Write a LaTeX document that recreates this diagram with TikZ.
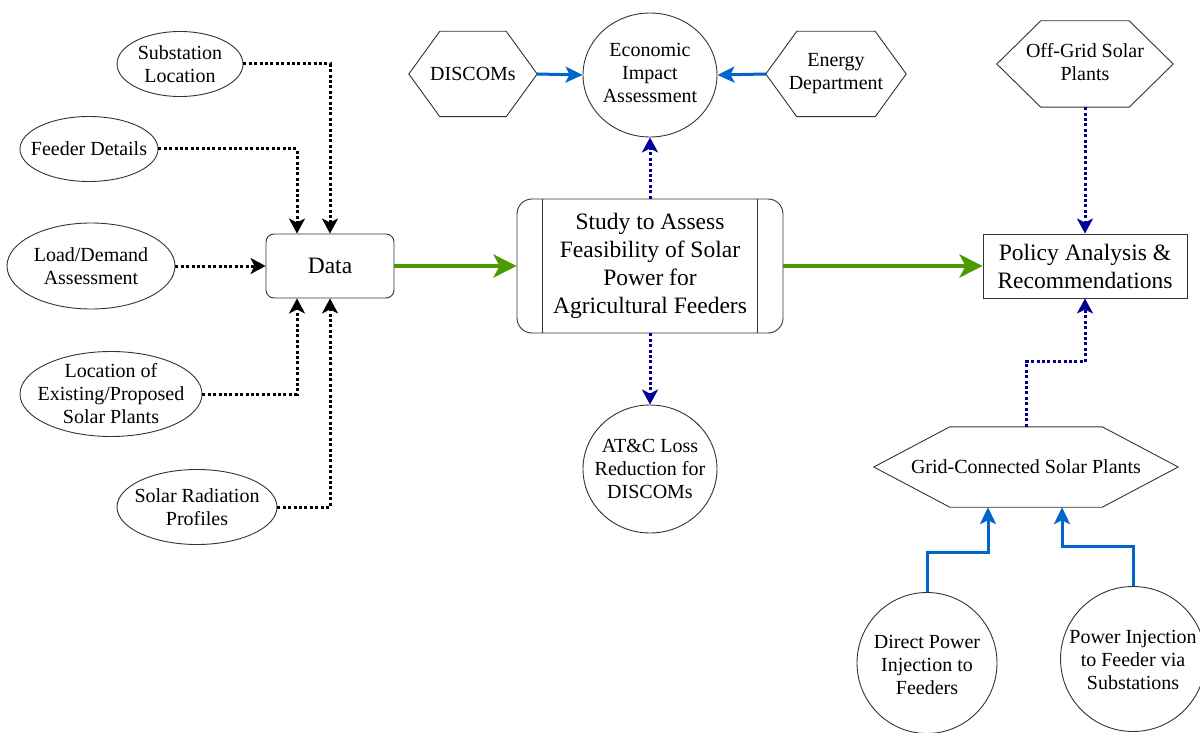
\documentclass[tikz,border=0pt]{standalone}
\usepackage{fontspec}
\setmainfont{Liberation Serif}
\usetikzlibrary{arrows.meta,shapes.geometric}
\definecolor{shp}{HTML}{333333}
\definecolor{grn}{HTML}{4D9900}
\definecolor{blu}{HTML}{0066CC}
\definecolor{dblu}{HTML}{000099}
\newcommand\hexdraw[2]{\draw[hexline] ([xshift=#2]#1.north west) -- ([xshift=-#2]#1.north east) -- (#1.east) -- ([xshift=-#2]#1.south east) -- ([xshift=#2]#1.south west) -- (#1.west) -- cycle;}
\tikzset{
  sm/.style={font=\rmfamily\fontsize{20}{23}\selectfont, align=center, inner sep=0pt},
  lg/.style={font=\rmfamily\fontsize{23.5}{28}\selectfont, align=center, inner sep=0pt},
  ell/.style={ellipse, draw=shp, line width=0.9pt, inner sep=0pt, fill=white},
  hexbox/.style={inner sep=0pt, draw=none},
  hexline/.style={draw=shp, line width=0.9pt, line join=miter},
  boxline/.style={draw=shp, line width=0.9pt},
  dotblk/.style={line width=3pt, black, dash pattern=on 3pt off 2.4pt,
    -{Stealth[length=15pt,width=16pt,inset=4pt]}},
  dotblu/.style={line width=3pt, dblu, dash pattern=on 3pt off 2.4pt,
    -{Stealth[length=15pt,width=16pt,inset=4pt]}},
  solblu/.style={line width=3pt, blu, -{Stealth[length=17pt,width=16pt,inset=4pt]}},
  grnarrow/.style={line width=4.5pt, grn, -{Stealth[length=23pt,width=23pt,inset=6pt]}},
}
\begin{document}
\begin{tikzpicture}[x=1pt,y=-1pt]
\useasboundingbox (0,0) rectangle (1200,733);
\clip (0,0) rectangle (1200,733);
\fill[white] (0,0) rectangle (1200,733);

% left ellipses
\node[ell, minimum width=126, minimum height=65] (sub) at (180,64) {};
\node[sm] (subt) at (sub) {Substation\\Location};
\node[ell, minimum width=138, minimum height=65] (feed) at (89,149) {};
\node[sm] (feedt) at (feed) {Feeder Details};
\node[ell, minimum width=168, minimum height=86] (load) at (91,266) {};
\node[sm] (loadt) at (load) {Load/Demand\\Assessment};
\node[ell, minimum width=182, minimum height=85] (loc) at (111,394) {};
\node[sm] (loct) at (loc) {Location of\\Existing/Proposed\\Solar Plants};
\node[ell, minimum width=160, minimum height=75] (sol) at (197,507) {};
\node[sm] (solt) at (sol) {Solar Radiation\\Profiles};

% Data
\node[boxline, rounded corners=8pt, minimum width=128, minimum height=64, lg] (data) at (330,266) {Data};

% Study
\node[boxline, rounded corners=15pt, minimum width=266, minimum height=134, lg] (study) at (650,266)
  {Study to Assess\\Feasibility of Solar\\Power for\\Agricultural Feeders};
\draw[boxline] ([xshift=26]study.north west) -- ([xshift=26]study.south west);
\draw[boxline] ([xshift=-26]study.north east) -- ([xshift=-26]study.south east);

% Policy
\node[boxline, minimum width=204, minimum height=64, lg] (policy) at (1085,266) {Policy Analysis \&\\Recommendations};

% top centre
\node[hexbox, minimum width=128, minimum height=85, sm] (disc) at (473,74) {DISCOMs};
\hexdraw{disc}{31}
\node[ell, minimum width=134, minimum height=124] (econ) at (650,75) {};
\node[sm] (econt) at (650,73) {Economic\\Impact\\Assessment};
\node[hexbox, minimum width=140, minimum height=85, sm] (energy) at (836,74) {Energy\\Department};
\hexdraw{energy}{31}

% AT&C
\node[ell, minimum width=134, minimum height=128] (atc) at (650,469) {};
\node[sm] (atct) at (atc) {AT\&C Loss\\Reduction for\\DISCOMs};

% right side
\node[hexbox, minimum width=176, minimum height=86] (off) at (1085,64) {};
\hexdraw{off}{44}
\node[sm] (offt) at (1085,62) {Off-Grid Solar\\Plants};
\node[hexbox, minimum width=304, minimum height=80, sm] (grid) at (1026,467) {Grid-Connected Solar Plants};
\hexdraw{grid}{76}
\node[ell, minimum width=140, minimum height=141] (direct) at (927,663) {};
\node[sm] (directt) at (927,665) {Direct Power\\Injection to\\Feeders};
\node[ell, minimum width=145, minimum height=145] (power) at (1133,659) {};
\node[sm] (powert) at (1133,660) {Power Injection\\to Feeder via\\Substations};

% black dotted arrows into Data
\draw[dotblk] (sub.east) -| (data.north);
\draw[dotblk] (feed.east) -| ([xshift=-33pt]data.north);
\draw[dotblk] (load.east) -- (data.west);
\draw[dotblk] (loc.east) -| ([xshift=-33pt]data.south);
\draw[dotblk] (sol.east) -| (data.south);

% green main flow
\draw[grnarrow] (data.east) -- (study.west);
\draw[grnarrow] (study.east) -- (policy.west);

% dark blue dotted
\draw[dotblu] (study.north) -- (econ.south);
\draw[dotblu] (study.south) -- (atc.north);
\draw[dotblu] (off.south) -- (policy.north);
\draw[dotblu] (grid.north) -- ++(0,-65) -| (policy.south);

% blue solid
\draw[solblu] (disc.east) -- (econ.west);
\draw[solblu] (energy.west) -- (econ.east);
\draw[solblu] (direct.north) -- ++(0,-40) -| ([xshift=-38pt]grid.south);
\draw[solblu] (power.north) -- ++(0,-40) -| ([xshift=36pt]grid.south);
\end{tikzpicture}
\end{document}
